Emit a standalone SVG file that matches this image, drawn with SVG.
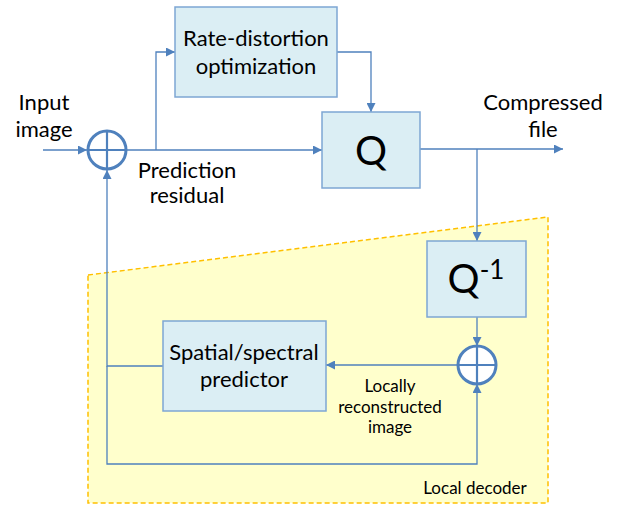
<svg xmlns="http://www.w3.org/2000/svg" width="617" height="506" viewBox="0 0 617 506">
<style>
.box{fill:#DBEEF4;stroke:#7EA6D3;stroke-width:1.5}
.ln{fill:none;stroke:#4F81BD;stroke-width:1.3}
.sum{fill:#fff;stroke:#4F81BD;stroke-width:3}
.pl{stroke:#4F81BD;stroke-width:2.2}
text{font-family:Lato,"Liberation Sans",sans-serif;fill:#000;text-anchor:middle}
.t{font-size:22px}
.s{font-size:17px}
.big{font-size:40px}
</style>
<defs>
<marker id="ah" viewBox="0 0 10 10" refX="10" refY="5" markerWidth="9" markerHeight="9" markerUnits="userSpaceOnUse" orient="auto">
<path d="M0,0 L10,5 L0,10 z" fill="#4F81BD"/>
</marker>
</defs>
<g id="local-decoder">
<polygon points="88,275 548,217 548,503 88,503" fill="#FFFFCC" stroke="#FFC000" stroke-width="1.5" stroke-dasharray="5,3"/>
<text class="s" x="475" y="494">Local decoder</text>
</g>
<g id="connectors">
<path class="ln" d="M43,150 H87" marker-end="url(#ah)"/>
<path class="ln" d="M126,150 H322" marker-end="url(#ah)"/>
<path class="ln" d="M156,150 V52 H175" marker-end="url(#ah)"/>
<path class="ln" d="M337,52 H371 V112" marker-end="url(#ah)"/>
<path class="ln" d="M420,149 H563" marker-end="url(#ah)"/>
<path class="ln" d="M477,149 V241" marker-end="url(#ah)"/>
<path class="ln" d="M477,317 V346" marker-end="url(#ah)"/>
<path class="ln" d="M458,365 H326" marker-end="url(#ah)"/>
<path class="ln" d="M163,366 H107 V170" marker-end="url(#ah)"/>
<path class="ln" d="M107,366 V464 H477 V384" marker-end="url(#ah)"/>
</g>
<g id="input-label">
<text class="t" x="44" y="110">Input</text>
<text class="t" x="44" y="137">image</text>
</g>
<g id="sum1">
<circle class="sum" cx="107" cy="150" r="19"/>
<line class="pl" x1="88" y1="150" x2="126" y2="150"/>
<line class="pl" x1="107" y1="131" x2="107" y2="169"/>
</g>
<g id="residual-label">
<text class="t" x="187" y="178">Prediction</text>
<text class="t" x="187" y="203">residual</text>
</g>
<g id="rdo">
<rect class="box" x="175" y="7" width="162" height="90"/>
<text class="t" x="256" y="46">Rate-distortion</text>
<text class="t" x="256" y="74">optimization</text>
</g>
<g id="q">
<rect class="box" x="322" y="112" width="98" height="76"/>
<text class="big" x="371" y="165">Q</text>
</g>
<g id="output-label">
<text class="t" x="543" y="110">Compressed</text>
<text class="t" x="543" y="137">file</text>
</g>
<g id="qinv">
<rect class="box" x="427" y="241" width="99" height="76"/>
<text class="big" x="476" y="293">Q<tspan font-size="26px" dy="-14">-1</tspan></text>
</g>
<g id="sum2">
<circle class="sum" cx="477" cy="365" r="19"/>
<line class="pl" x1="458" y1="365" x2="496" y2="365"/>
<line class="pl" x1="477" y1="346" x2="477" y2="384"/>
</g>
<g id="predictor">
<rect class="box" x="163" y="321" width="163" height="90"/>
<text class="t" x="244" y="360">Spatial/spectral</text>
<text class="t" x="244" y="387">predictor</text>
</g>
<g id="recon-label">
<text class="s" x="390" y="392">Locally</text>
<text class="s" x="390" y="413">reconstructed</text>
<text class="s" x="390" y="433">image</text>
</g>
</svg>
